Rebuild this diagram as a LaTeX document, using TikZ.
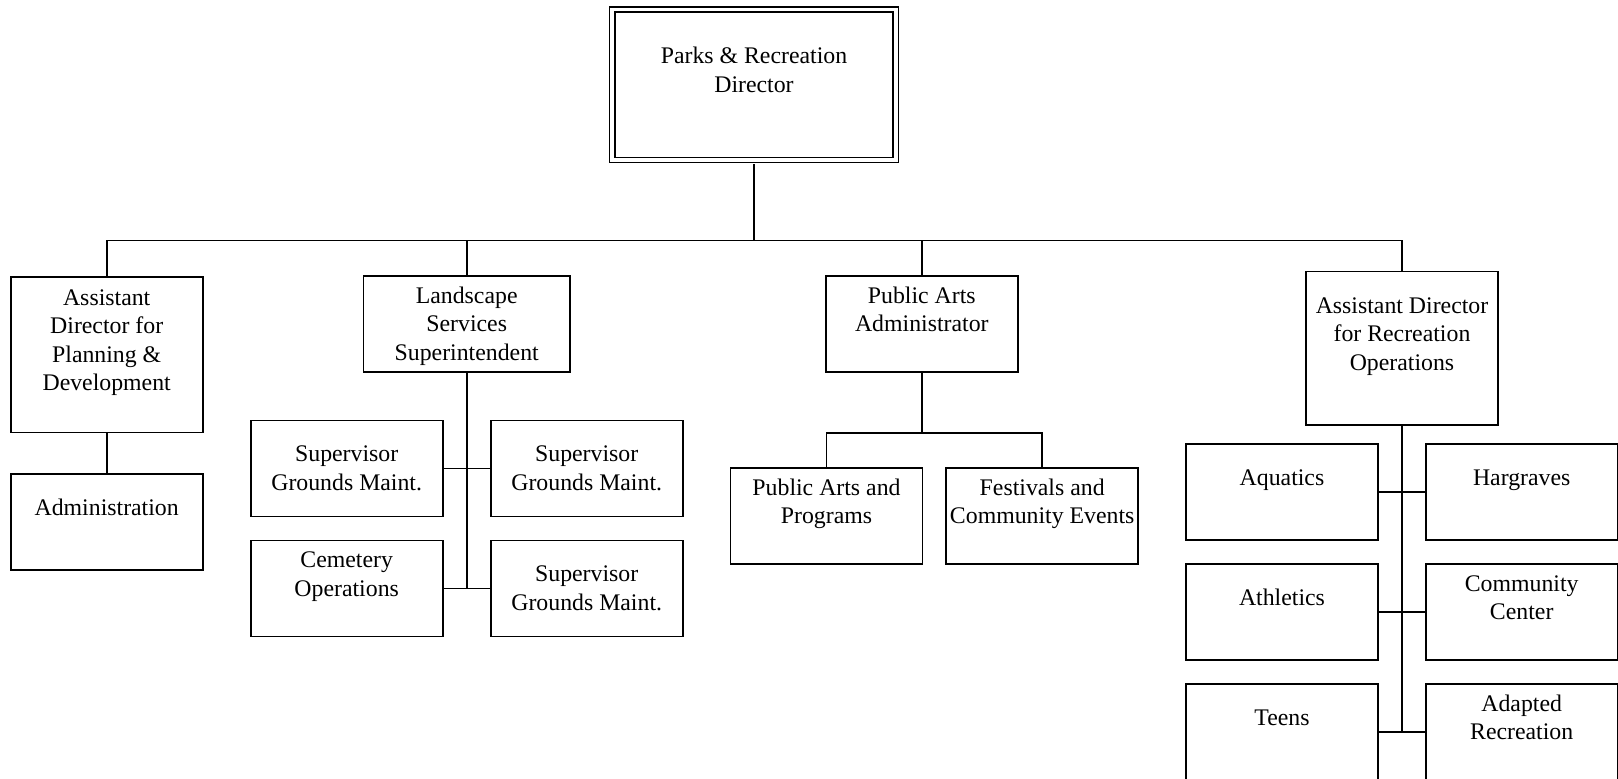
\documentclass[tikz,border=0pt]{standalone}
\usepackage{fontspec}
\setmainfont{Liberation Serif}
\newcommand\tstr{\rule{0pt}{21.95pt}}
\newcommand\bstr{\rule[-6.55pt]{0pt}{6.55pt}}
\tikzset{
  box/.style={draw, line width=1.6pt, inner sep=0pt, minimum width=192pt, minimum height=96pt,
    align=center, font=\fontsize{23.8}{28.5}\selectfont},
  tall/.style={minimum height=155pt},
  conn/.style={line width=1.6pt},
  trunk/.style={line width=2pt},
}
\begin{document}
\begin{tikzpicture}[x=1pt,y=-1pt]
\useasboundingbox (0,0) rectangle (1618,779);
% top
\node[box, line width=1.5pt, double, double distance=3.8pt, minimum width=283.6pt, minimum height=150.6pt] (dir) at (754,84.7)
  {\tstr Parks \& Recreation\\Director\\\bstr};
% level 1
\node[box, tall, minimum height=155.6pt] (apd) at (106.7,354.5) {\tstr Assistant\\Director for\\Planning \&\\Development\\\bstr};
\node[box, minimum width=206.7pt] (ls) at (466.7,324.2) {\tstr Landscape\\Services\\Superintendent\bstr};
\node[box] (pa) at (921.8,324.2) {\tstr Public Arts\\Administrator\\\bstr};
\node[box, tall, minimum height=153.3pt] (rec) at (1402,348.3) {\tstr Assistant Director\\for Recreation\\Operations\\\bstr};
% planning
\node[box] (adm) at (106.7,522.2) {\tstr Administration\\\bstr};
% landscape
\node[box] (sg1) at (346.7,468.3) {\tstr Supervisor\\Grounds Maint.\bstr};
\node[box] (sg2) at (586.7,468.3) {\tstr Supervisor\\Grounds Maint.\bstr};
\node[box] (cem) at (346.7,588.3) {\tstr Cemetery\\Operations\\\bstr};
\node[box] (sg3) at (586.7,588.3) {\tstr Supervisor\\Grounds Maint.\bstr};
% public arts
\node[box] (pap) at (826.5,516.2) {\tstr Public Arts and\\Programs\\\bstr};
\node[box] (fce) at (1042.2,516.2) {\tstr Festivals and\\Community Events\\\bstr};
% recreation
\node[box] (aq) at (1282,492.2) {\tstr Aquatics\\\bstr};
\node[box] (hg) at (1521.7,492.2) {\tstr Hargraves\\\bstr};
\node[box] (ath) at (1282,612.2) {\tstr Athletics\\\bstr};
\node[box] (cc) at (1521.7,612.2) {\tstr Community\\Center\\\bstr};
\node[box] (tn) at (1282,732.2) {\tstr Teens\\\bstr};
\node[box] (ar) at (1521.7,732.2) {\tstr Adapted\\Recreation\\\bstr};
% connectors
\coordinate (bus) at (754,240.5);
\draw[line width=2.3pt, shorten <=3.4pt] (dir.south) -- (bus);
\draw[conn] (apd.north) |- (bus) -| (rec.north);
\draw[conn] (ls.north) -- (ls.north |- bus);
\draw[conn] (pa.north) -- (pa.north |- bus);
\draw[conn] (apd.south) -- (adm.north);
\draw[trunk] (ls.south) -- (ls.south |- cem.east);
\draw[conn] (sg1.east) -- (sg2.west);
\draw[conn] (cem.east) -- (sg3.west);
\coordinate (pabus) at (921.8,432.7);
\draw[conn] (pa.south) -- (pabus);
\draw[conn] (pap.north) |- (pabus) -| (fce.north);
\draw[trunk] (rec.south) -- (rec.south |- tn.east);
\draw[conn] (aq.east) -- (hg.west);
\draw[conn] (ath.east) -- (cc.west);
\draw[conn] (tn.east) -- (ar.west);
\end{tikzpicture}
\end{document}
